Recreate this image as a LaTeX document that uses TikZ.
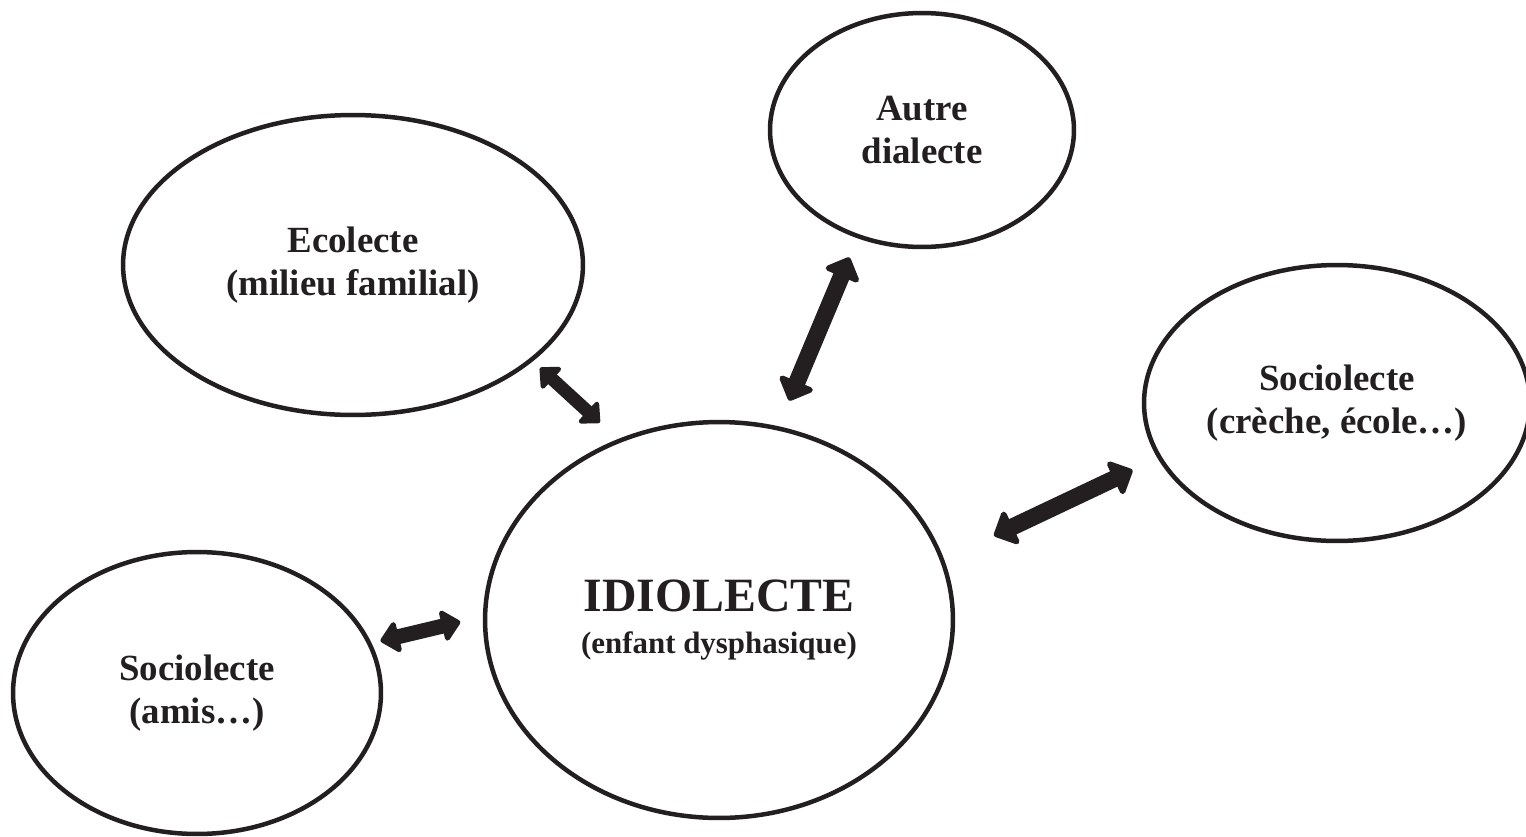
\documentclass[tikz,border=0pt]{standalone}
\usepackage{fontspec}
\setmainfont{Liberation Serif}
\usetikzlibrary{arrows.meta,shapes.geometric}
\definecolor{ink}{RGB}{35,31,32}

\begin{document}
\begin{tikzpicture}[x=0.02cm, y=-0.02cm,
  lect/.style={ellipse, draw=ink, line width=0.09cm, inner sep=0pt, outer sep=0pt, text=ink, align=center,
    font=\bfseries\fontsize{21}{24.4}\selectfont},
  dbl/.style n args={3}{draw=ink, line width=#1,
    {Triangle[width=#2, length=#3, round]}-{Triangle[width=#2, length=#3, round]}}]
  \useasboundingbox (0,0) rectangle (1526,836);
  \node[lect, minimum width=9.2cm, minimum height=6cm] (eco) at (353,265) {Ecolecte\\(milieu familial)};
  \node[lect, minimum width=6.08cm, minimum height=4.68cm] (autre) at (922,130) {Autre\\dialecte};
  \node[lect, minimum width=7.72cm, minimum height=5.52cm] (creche) at (1337,403) {Sociolecte\\(crèche, école…)};
  \node[lect, minimum width=7.36cm, minimum height=5.64cm] (amis) at (197,693) {Sociolecte\\(amis…)};
  \node[lect, minimum width=9.36cm, minimum height=7.92cm, font=\bfseries\fontsize{17.6}{24.4}\selectfont] (idio) at (719,620)
    {{\fontsize{27.2}{24.4}\selectfont IDIOLECTE}\\(enfant dysphasique)};
  \draw[dbl={0.26cm}{0.66cm}{0.36cm}, shorten <=0.24cm, shorten >=0.54cm] (eco.-28) -- (idio.119.6);
  \draw[dbl={0.34cm}{0.84cm}{0.44cm}, shorten <=0.46cm, shorten >=0.6cm] (autre.-121.6) -- (idio.73.4);
  \draw[dbl={0.34cm}{0.84cm}{0.44cm}, shorten <=0.6cm, shorten >=1.15cm] (creche.197.5) -- (idio.15.8);
  \draw[dbl={0.3cm}{0.72cm}{0.4cm}, shorten <=0.23cm, shorten >=0.51cm] (amis.16.3) -- (idio.179);
\end{tikzpicture}
\end{document}
